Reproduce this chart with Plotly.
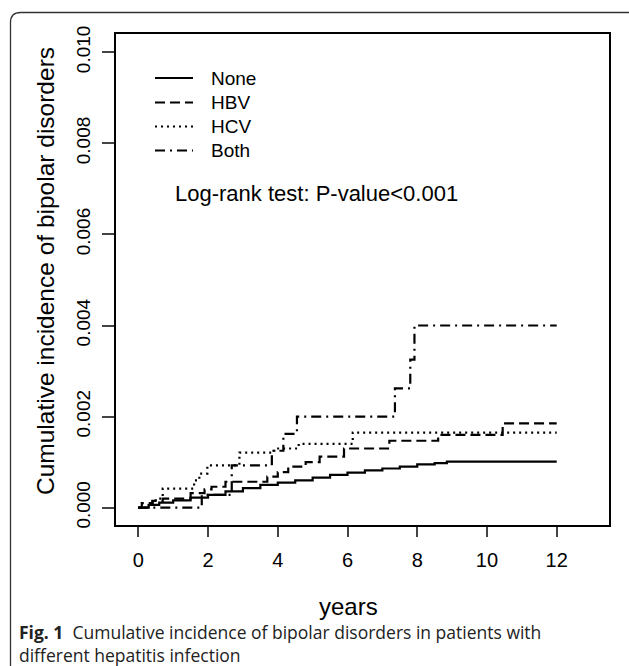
import plotly.graph_objects as go

# ---- data ----
none_years = [0, 0.3, 0.6, 1.0, 1.5, 2.0, 2.5, 3.0, 3.5, 4.0, 4.5, 5.0, 5.5, 6.0, 6.5, 7.0, 7.5, 8.0, 8.5, 8.85, 12]
none_inc = [0, 0.00006, 0.00011, 0.00016, 0.00022, 0.00028, 0.00036, 0.00043, 0.0005, 0.00055, 0.0006,
            0.00066, 0.00072, 0.00077, 0.00082, 0.00086, 0.0009, 0.00095, 0.00098, 0.00101, 0.00101]

hbv_years = [0, 0.1, 0.4, 0.7, 1.5, 1.9, 2.1, 2.5, 3.7, 4.0, 4.3, 4.8, 5.2, 5.9, 7.2, 8.6, 10.45, 12]
hbv_inc = [0, 0.0001, 0.00015, 0.0002, 0.00032, 0.0004, 0.00046, 0.00057, 0.00068, 0.00078, 0.0009,
           0.001, 0.00112, 0.0013, 0.00147, 0.0016, 0.00185, 0.00185]

hcv_years = [0, 0.3, 0.5, 0.7, 1.6, 1.75, 1.98, 2.9, 3.9, 4.6, 6.15, 12]
hcv_inc = [0, 0.0001, 0.0002, 0.00042, 0.0006, 0.00075, 0.00093, 0.00121, 0.0013, 0.0014, 0.00165, 0.00165]

both_years = [0, 1.82, 2.68, 3.83, 4.16, 4.55, 7.36, 7.8, 7.92, 12]
both_inc = [0, 0.00028, 0.00093, 0.00125, 0.00162, 0.002, 0.00262, 0.00325, 0.004, 0.004]

series_names = ["None", "HBV", "HCV", "Both"]
x_ticks = [0, 2, 4, 6, 8, 10, 12]
y_ticks = [0, 0.002, 0.004, 0.006, 0.008, 0.010]
y_tick_labels = ["0.000", "0.002", "0.004", "0.006", "0.008", "0.010"]

FONT = "Liberation Sans, Arial, sans-serif"
W, H = 629, 666
L, R, T, B = 116, 20, 34, 141
PW, PH = W - L - R, H - T - B


def px(x):
    return (x - L) / PW


def py(y):
    return (H - B - y) / PH


dashes = ["solid", "10px,5px", "2px,4px", "10px,5px,2px,5px"]
data = [(none_years, none_inc), (hbv_years, hbv_inc), (hcv_years, hcv_inc), (both_years, both_inc)]

fig = go.Figure()
for name, (xs, ys), d in zip(series_names, data, dashes):
    fig.add_trace(go.Scatter(x=xs, y=ys, mode="lines", name=name, showlegend=False,
                             line=dict(color="black", width=2.2, dash=d, shape="hv")))

fig.update_layout(
    width=W, height=H,
    margin=dict(l=L, r=R, t=T, b=B, autoexpand=False),
    paper_bgcolor="white", plot_bgcolor="white",
    font=dict(family=FONT, color="black", size=19),
    showlegend=False,
    xaxis=dict(range=[-0.64, 13.5], tickvals=x_ticks, ticks="outside", ticklen=10, tickwidth=1.5,
               showline=True, mirror=True, linecolor="black", linewidth=1.5, showgrid=False,
               zeroline=False, tickfont=dict(size=20), ticklabelstandoff=6),
    yaxis=dict(range=[-0.00038, 0.0104], tickvals=y_ticks, ticktext=y_tick_labels, ticks="outside",
               ticklen=12, tickwidth=1.5, tickangle=-90,
               showline=True, mirror=True, linecolor="black", linewidth=1.5, showgrid=False,
               zeroline=False, tickfont=dict(size=19), ticklabelstandoff=5),
)

# legend key (drawn in paper space)
leg_rows = [78, 102.5, 126.5, 150.5]
for name, d, yy in zip(series_names, dashes, leg_rows):
    fig.add_shape(type="line", xref="paper", yref="paper", x0=px(155), x1=px(193), y0=py(yy), y1=py(yy),
                  line=dict(color="black", width=1.8, dash=d))
    fig.add_annotation(text=name, xref="paper", yref="paper", x=px(209), y=py(yy), showarrow=False,
                       font=dict(size=19, family=FONT), xanchor="left", yanchor="middle")

# axis titles and text
fig.add_annotation(text="Cumulative incidence of bipolar disorders", xref="paper", yref="paper",
                   x=px(45), y=py(271), textangle=-90, showarrow=False,
                   font=dict(size=24.5, family=FONT), xanchor="center", yanchor="middle")
fig.add_annotation(text="years", xref="paper", yref="paper", x=px(348), y=py(606), showarrow=False,
                   font=dict(size=24, family=FONT), xanchor="center", yanchor="middle")
fig.add_annotation(text="Log-rank test: P-value<0.001", xref="paper", yref="paper", x=px(173), y=py(193),
                   showarrow=False, font=dict(size=22, family=FONT), xanchor="left", yanchor="middle")

# caption
CAP_FONT = "Open Sans, sans-serif"
fig.add_annotation(text="<b>Fig. 1</b>  Cumulative incidence of bipolar disorders in patients with"
                        "<br>different hepatitis infection",
                   xref="paper", yref="paper", x=px(18), y=py(643), showarrow=False, align="left",
                   font=dict(size=17.5, family=CAP_FONT, color="#222"), xanchor="left", yanchor="middle",
                   borderpad=0)

# outer frame (rounded top-left corner, open on right and bottom)
x0, y0, r = 10.5, 12.5, 10
path = (f"M {px(x0)},{py(H + 5)} L {px(x0)},{py(y0 + r)} Q {px(x0)},{py(y0)} {px(x0 + r)},{py(y0)} "
        f"L {px(W + 5)},{py(y0)}")
fig.add_shape(type="path", path=path, xref="paper", yref="paper", line=dict(color="#333", width=1.3))

fig.write_html("out.html", config={"displayModeBar": False},
               post_script="document.body.style.margin='0';")
